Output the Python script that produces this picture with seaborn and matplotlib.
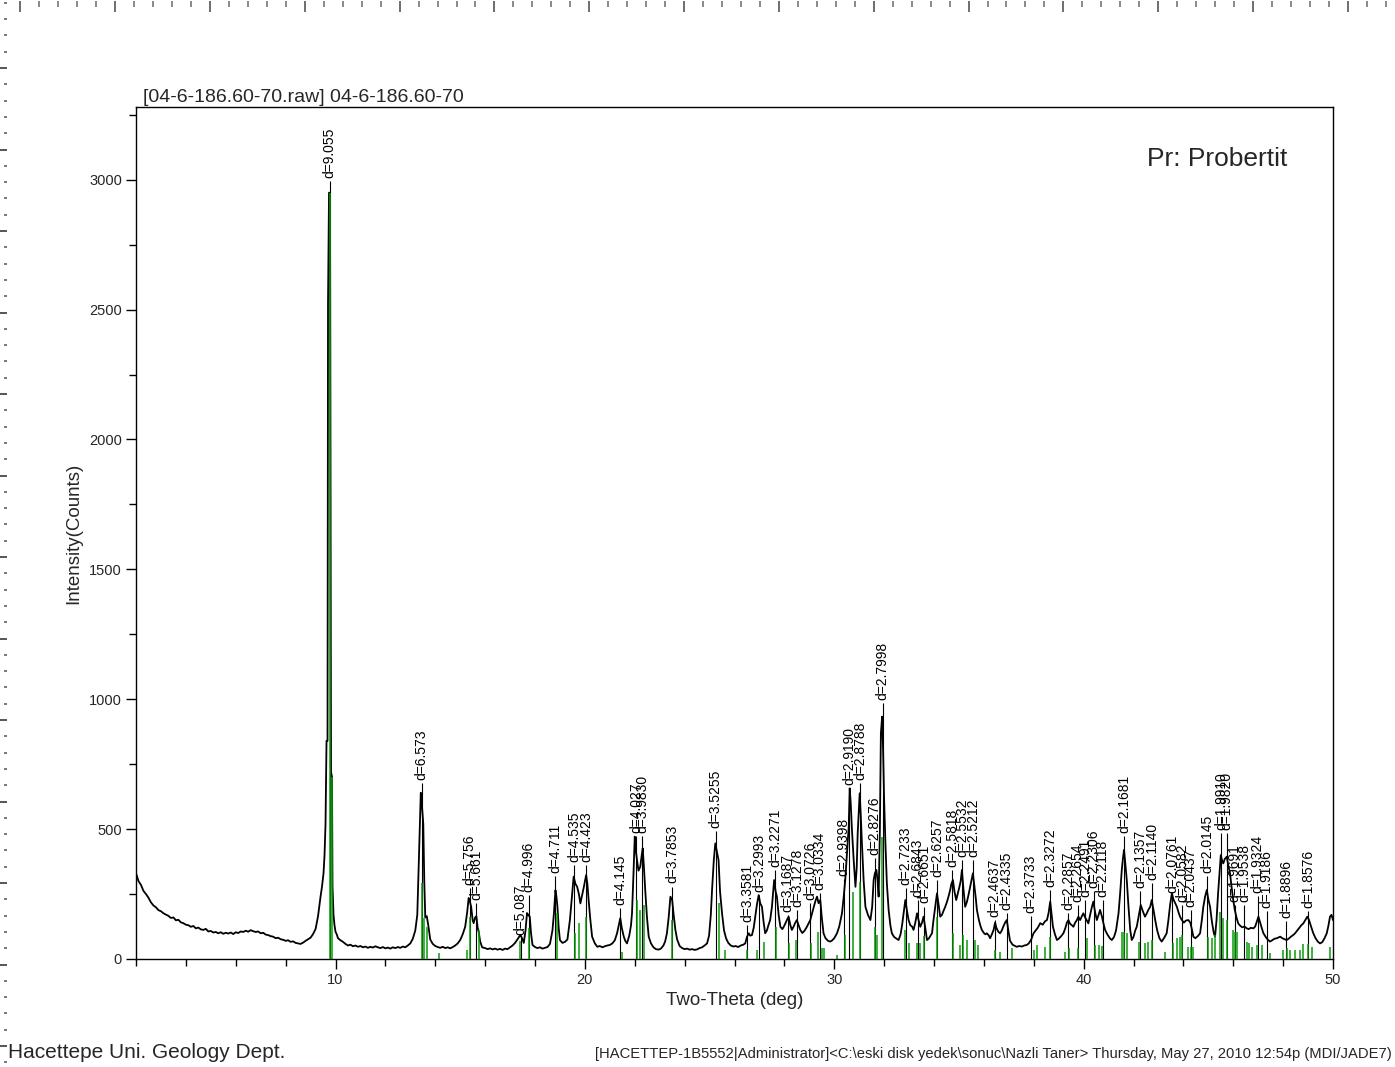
import numpy as np
import matplotlib
matplotlib.use("Agg")
import matplotlib.pyplot as plt
from matplotlib.ticker import MultipleLocator, FixedLocator
import seaborn as sns

tt_low = [2.0, 2.1, 2.2, 2.3, 2.4, 2.5, 2.6, 2.7, 2.8, 2.9, 3.0, 3.1, 3.2, 3.3, 3.4, 3.5,
          3.6, 3.7, 3.8, 3.9, 4.0, 4.1, 4.2, 4.3, 4.4, 4.5, 4.6, 4.7, 4.8, 4.9, 5.0, 5.1,
          5.2, 5.3, 5.4, 5.5, 5.6, 5.7, 5.8, 5.9, 6.0, 6.1, 6.2, 6.3, 6.4, 6.5, 6.6, 6.7,
          6.8, 6.9, 7.0, 7.1, 7.2, 7.3, 7.4, 7.5, 7.6, 7.7, 7.8, 7.9, 8.0, 8.1, 8.2, 8.3,
          8.4, 8.5, 8.6, 8.7, 8.8, 8.9, 9.0, 9.1, 9.2, 9.3, 9.4]
cnt_low = [330, 300, 285, 262, 250, 236, 218, 206, 199, 188, 184, 176, 171, 166, 158, 160,
           149, 151, 141, 138, 132, 130, 124, 127, 118, 121, 114, 112, 116, 106, 108, 102,
           104, 99, 103, 97, 101, 98, 102, 96, 103, 100, 106, 104, 109, 105, 111, 107,
           104, 106, 99, 101, 94, 92, 88, 86, 80, 82, 76, 74, 70, 72, 66, 68,
           62, 60, 58, 63, 70, 76, 82, 96, 115, 165, 240]

tt_main = [9.46, 9.52, 9.56, 9.60, 9.64, 9.68, 9.70, 9.74, 9.78, 9.82, 9.86, 9.88, 9.92,
           9.96, 10.0, 10.05]
cnt_main = [280, 330, 400, 520, 840, 840, 2520, 2950, 2950, 720, 700, 280, 170,
            130, 105, 95]

tt_a = [10.1, 10.2, 10.3, 10.4, 10.5, 10.6, 10.7, 10.8, 10.9, 11.0, 11.1, 11.2, 11.3, 11.4,
        11.5, 11.6, 11.7, 11.8, 11.9, 12.0, 12.1, 12.2, 12.3, 12.4, 12.5, 12.6, 12.7, 12.8,
        12.9, 13.0, 13.1, 13.2, 13.28, 13.36, 13.42, 13.46, 13.52, 13.56, 13.60, 13.66,
        13.72, 13.80, 13.9, 14.0, 14.1, 14.2, 14.3, 14.4, 14.5, 14.6, 14.7, 14.8, 14.9,
        15.0, 15.1, 15.2, 15.28, 15.34, 15.38, 15.44, 15.50, 15.54, 15.60, 15.65, 15.70,
        15.75, 15.8, 15.88, 16.0, 16.1, 16.2, 16.3, 16.4, 16.5, 16.6, 16.7, 16.8, 16.9,
        17.0, 17.1, 17.2, 17.28, 17.36, 17.42, 17.48, 17.55, 17.62, 17.68, 17.74, 17.79,
        17.84, 17.9, 18.0, 18.1, 18.2, 18.3, 18.4, 18.5, 18.6, 18.7, 18.76, 18.82, 18.86,
        18.90, 18.95, 19.0, 19.1, 19.2, 19.3, 19.4, 19.49, 19.55, 19.62, 19.69, 19.76,
        19.82, 19.9, 19.96, 20.05, 20.10, 20.15, 20.22, 20.29, 20.4, 20.5, 20.6, 20.7,
        20.8, 20.9, 21.0, 21.1, 21.2, 21.29, 21.36, 21.42, 21.48, 21.56, 21.62, 21.69]
cnt_a = [80, 72, 66, 58, 52, 55, 49, 52, 47, 50, 45, 48, 43, 47,
         44, 49, 45, 42, 46, 41, 44, 40, 45, 42, 46, 43, 48, 45,
         52, 60, 78, 110, 170, 440, 640, 600, 520, 300, 160, 165,
         130, 75, 58, 50, 46, 43, 47, 42, 45, 41, 46, 52, 60,
         73, 95, 124, 180, 235, 225, 201, 150, 138, 160, 165, 120,
         100, 68, 45, 42, 38, 41, 37, 40, 36, 39, 35, 40, 38,
         45, 52, 62, 73, 85, 92, 80, 62, 110, 177, 168, 163,
         100, 54, 46, 42, 45, 40, 43, 46, 58, 110, 177, 265, 240,
         201, 120, 73, 62, 66, 75, 150, 253, 317, 290, 278, 250,
         214, 250, 278, 323, 290, 227, 150, 86, 60, 47, 50, 45,
         49, 52, 54, 60, 72, 99, 130, 157, 120, 86, 70, 60]

tt_b = [21.78, 21.85, 21.89, 21.95, 22.0, 22.04, 22.09, 22.15, 22.22, 22.28, 22.32, 22.37,
        22.42, 22.49, 22.56, 22.65, 22.75, 22.85, 22.95, 23.05, 23.15, 23.22, 23.29, 23.36,
        23.43, 23.50, 23.56, 23.63, 23.7, 23.8, 23.9, 24.0, 24.1, 24.2, 24.3, 24.4, 24.5,
        24.6, 24.7, 24.8, 24.9, 24.98, 25.05, 25.10, 25.17, 25.23, 25.30, 25.36, 25.42,
        25.50, 25.58, 25.66, 25.75, 25.85, 25.95, 26.05, 26.15, 26.25, 26.35, 26.43, 26.50,
        26.57, 26.63, 26.70, 26.77, 26.83, 26.90, 26.97, 27.03, 27.10, 27.17, 27.23, 27.30,
        27.36, 27.43, 27.50, 27.55, 27.59, 27.65, 27.70, 27.77, 27.84, 27.92, 27.98, 28.04,
        28.10, 28.17, 28.24, 28.30, 28.37, 28.44, 28.50, 28.57, 28.64, 28.72, 28.80, 28.88,
        28.97, 29.04, 29.11, 29.18, 29.25, 29.31, 29.37, 29.44, 29.50, 29.57, 29.65, 29.75,
        29.84, 29.92, 30.0]
cnt_b = [90, 130, 176, 330, 471, 420, 381, 340, 355, 400, 426, 350,
         266, 160, 86, 60, 45, 38, 36, 40, 52, 68, 99, 160,
         240, 227, 170, 112, 75, 50, 42, 38, 40, 36, 38, 35, 37,
         42, 45, 52, 60, 90, 170, 266, 380, 445, 410, 381, 260,
         176, 110, 80, 62, 52, 48, 50, 46, 52, 55, 60, 85,
         99, 90, 92, 120, 163, 210, 246, 215, 201, 140, 99, 110,
         130, 150, 200, 260, 304, 260, 240, 170, 124, 115, 125, 137,
         150, 163, 130, 112, 125, 140, 150, 130, 112, 100, 108, 120,
         137, 150, 176, 200, 225, 240, 215, 227, 160, 99, 80, 70,
         67, 72, 80]

tt_c = [30.11, 30.2, 30.31, 30.38, 30.44, 30.52, 30.58, 30.62, 30.66, 30.71, 30.78, 30.85,
        30.90, 30.94, 30.98, 31.02, 31.06, 31.11, 31.18, 31.25, 31.35, 31.45, 31.52, 31.58,
        31.63, 31.69, 31.74, 31.78, 31.83, 31.87, 31.92, 31.96, 32.0, 32.05, 32.11, 32.18,
        32.25, 32.31, 32.4, 32.5, 32.58, 32.66, 32.72, 32.78, 32.85, 32.91, 32.98, 33.05,
        33.12, 33.18, 33.25, 33.32, 33.38, 33.45, 33.52, 33.58, 33.65, 33.72, 33.80, 33.86,
        33.92, 33.98, 34.05, 34.12, 34.18, 34.25, 34.32, 34.38, 34.45, 34.52, 34.58, 34.65,
        34.70, 34.76, 34.82, 34.89, 34.95, 35.02, 35.07, 35.12, 35.18, 35.25, 35.32, 35.38,
        35.45, 35.50, 35.56, 35.62, 35.68, 35.72, 35.80, 35.87, 35.92, 36.0, 36.06, 36.12,
        36.2, 36.25, 36.32, 36.39, 36.45, 36.5, 36.58, 36.65, 36.72, 36.78, 36.85, 36.92,
        36.98, 37.05, 37.15, 37.25, 37.32, 37.42, 37.52, 37.62, 37.72, 37.80, 37.90, 37.99]
cnt_c = [99, 125, 176, 240, 304, 420, 509, 657, 600, 497, 380, 278,
         350, 484, 560, 638, 560, 445, 300, 201, 170, 150, 200, 304,
         330, 343, 300, 240, 500, 869, 933, 800, 612, 450, 291, 190,
         130, 99, 85, 78, 73, 95, 130, 176, 227, 190, 150, 130,
         125, 112, 140, 176, 150, 124, 140, 163, 120, 73, 80, 90,
         99, 150, 201, 253, 210, 163, 170, 185, 201, 220, 240, 266,
         290, 304, 260, 227, 250, 278, 300, 343, 270, 201, 220, 245,
         278, 300, 330, 280, 230, 189, 150, 125, 112, 100, 95, 99,
         90, 80, 95, 112, 140, 120, 105, 99, 110, 125, 140, 150,
         110, 70, 55, 50, 47, 50, 48, 52, 54, 60, 75, 99]

tt_d = [38.08, 38.16, 38.26, 38.36, 38.45, 38.53, 38.60, 38.66, 38.72, 38.77, 38.85, 38.93,
        39.0, 39.1, 39.19, 39.27, 39.33, 39.39, 39.46, 39.53, 39.59, 39.66, 39.73, 39.79,
        39.86, 39.93, 39.99, 40.06, 40.12, 40.19, 40.26, 40.33, 40.39, 40.46, 40.53, 40.60,
        40.66, 40.73, 40.80, 40.86, 40.95, 41.05, 41.13, 41.22, 41.30, 41.40, 41.47, 41.53,
        41.58, 41.62, 41.67, 41.73, 41.80, 41.87, 41.93, 42.0, 42.07, 42.13, 42.20, 42.29,
        42.37, 42.46, 42.53, 42.60, 42.67, 42.73, 42.80, 42.87, 42.95, 43.04, 43.13, 43.22,
        43.33, 43.40, 43.47, 43.54, 43.60, 43.67, 43.74, 43.82, 43.88, 43.94, 44.02, 44.10,
        44.20, 44.28, 44.35, 44.40, 44.48, 44.58, 44.67, 44.74, 44.80, 44.87, 44.94, 45.0,
        45.07, 45.15, 45.22, 45.27, 45.33, 45.39, 45.44, 45.50, 45.55, 45.60, 45.66, 45.74,
        45.80, 45.87, 45.93, 46.0, 46.06, 46.13, 46.20, 46.28, 46.36, 46.45, 46.54, 46.62,
        46.70, 46.81, 46.88, 46.95, 47.01, 47.08, 47.14, 47.21, 47.30, 47.38, 47.47, 47.56,
        47.65, 47.75, 47.88, 47.97, 48.06, 48.14, 48.22, 48.30, 48.40, 48.48, 48.57, 48.65,
        48.73, 48.81, 48.89, 48.97, 49.04, 49.12, 49.21, 49.30, 49.40, 49.48, 49.57, 49.66,
        49.75, 49.82, 49.88, 49.94, 50.0]
cnt_d = [110, 120, 138, 132, 145, 150, 180, 221, 170, 124, 95, 73,
         78, 88, 99, 120, 140, 150, 135, 130, 124, 140, 150, 163,
         150, 165, 176, 160, 150, 137, 170, 200, 221, 180, 150, 170,
         189, 165, 135, 112, 95, 80, 73, 85, 110, 176, 260, 343,
         390, 420, 370, 304, 200, 110, 73, 85, 110, 124, 160, 208,
         185, 163, 175, 190, 201, 227, 190, 150, 110, 80, 67, 80,
         99, 150, 210, 253, 230, 215, 201, 175, 160, 150, 140, 148,
         150, 140, 110, 86, 80, 88, 99, 150, 201, 240, 266, 230,
         201, 140, 100, 86, 150, 250, 317, 400, 380, 368, 385, 394,
         360, 330, 280, 227, 190, 160, 137, 128, 122, 125, 118, 115,
         120, 118, 125, 145, 163, 140, 120, 99, 85, 75, 67, 72,
         78, 80, 86, 80, 76, 73, 78, 85, 92, 99, 110, 120,
         130, 137, 150, 163, 150, 125, 99, 80, 66, 60, 65, 80,
         99, 130, 163, 170, 150]

# --- reference sticks (probertite card), green ---
stick_tt = [9.78, 9.86, 13.47, 13.54, 13.68, 14.14, 15.28, 15.38, 15.74, 17.41, 17.75,
            18.89, 19.62, 19.75, 20.06, 21.49, 22.09, 22.22, 22.38, 23.50, 25.36, 25.63,
            26.50, 26.90, 27.17, 27.68, 28.17, 28.48, 29.07, 29.34, 29.51, 29.57, 30.11,
            30.44, 30.75, 31.04, 31.64, 31.72, 31.93, 32.85, 32.98, 33.30, 33.45, 33.60,
            34.12, 34.78, 35.05, 35.18, 35.32, 35.65, 35.78, 36.45, 36.65, 37.12, 37.99,
            38.12, 38.46, 38.66, 39.26, 39.43, 39.79, 40.13, 40.46, 40.60, 40.73, 41.53,
            41.62, 41.73, 42.24, 42.46, 42.59, 42.73, 43.27, 43.60, 43.74, 43.87, 43.94,
            44.20, 44.30, 44.40, 45.00, 45.14, 45.27, 45.47, 45.60, 45.74, 46.00, 46.07,
            46.14, 46.54, 46.65, 46.74, 46.94, 47.14, 47.47, 48.01, 48.14, 48.28, 48.48,
            48.68, 48.81, 49.01, 49.15, 49.88]
stick_h = [2950, 700, 292, 158, 123, 23, 35, 162, 112, 70, 120,
           177, 100, 138, 162, 28, 227, 190, 208, 150, 214, 35,
           35, 33, 67, 124, 60, 73, 60, 105, 42, 42, 15,
           92, 259, 298, 124, 92, 471, 112, 60, 60, 60, 88,
           163, 99, 54, 92, 73, 73, 54, 35, 28, 42, 35,
           54, 47, 86, 28, 42, 42, 80, 54, 54, 50, 105,
           105, 99, 67, 60, 67, 73, 28, 60, 80, 86, 92,
           47, 47, 47, 86, 80, 92, 182, 157, 150, 112, 105,
           105, 67, 60, 47, 54, 54, 22, 35, 42, 35, 35,
           35, 58, 58, 47, 47]

# --- peak labels: position, d-spacing text, height of label base ---
peak_tt = [9.76, 13.46, 15.38, 15.64, 17.42, 17.74, 18.82, 19.56, 20.06, 21.42, 22.06,
           22.30, 23.49, 25.24, 26.52, 27.00, 27.62, 28.14, 28.51, 29.04, 29.42, 30.38,
           30.60, 31.04, 31.62, 31.94, 32.86, 33.35, 33.60, 34.12, 34.72, 35.12, 35.58,
           36.44, 36.91, 37.88, 38.66, 39.39, 39.76, 40.06, 40.40, 40.76, 41.62, 42.28,
           42.74, 43.56, 43.96, 44.29, 44.96, 45.52, 45.74, 46.06, 46.44, 46.98, 47.34,
           48.12, 49.00]
peak_d = ["9.055", "6.573", "5.756", "5.661", "5.087", "4.996", "4.711", "4.535", "4.423",
          "4.145", "4.027", "3.9830", "3.7853", "3.5255", "3.3581", "3.2993", "3.2271",
          "3.1687", "3.1278", "3.0726", "3.0334", "2.9398", "2.9190", "2.8788", "2.8276",
          "2.7998", "2.7233", "2.6843", "2.6651", "2.6257", "2.5818", "2.5532", "2.5212",
          "2.4637", "2.4335", "2.3733", "2.3272", "2.2857", "2.2654", "2.2491", "2.2306",
          "2.2118", "2.1681", "2.1357", "2.1140", "2.0761", "2.0582", "2.0437", "2.0145",
          "1.9910", "1.9820", "1.9691", "1.9538", "1.9324", "1.9186", "1.8896", "1.8576"]
peak_lab = [3007, 689, 285, 227, 92, 259, 330, 375, 375, 208, 484,
            484, 291, 503, 144, 259, 355, 182, 201, 227, 266, 320,
            670, 689, 400, 997, 285, 240, 214, 317, 355, 394, 394,
            163, 189, 176, 278, 189, 221, 240, 272, 240, 484, 272,
            304, 253, 221, 201, 330, 497, 497, 221, 221, 253, 195,
            157, 195]

W, H = 1395, 1067

sns.set_theme(style="white")
plt.rcParams["font.family"] = ["Liberation Sans", "DejaVu Sans"]

fig = plt.figure(figsize=(W / 100, H / 100), dpi=100)

# screen ruler of the capture (top and left edges)
rul = fig.add_axes([7 / W, 0, 1 - 7 / W, 1 - 1 / H], facecolor="none")
rul.set_xlim(-7, W - 7)
rul.set_ylim(H - 1, 0)
for s in rul.spines.values():
    s.set_visible(False)
rul.xaxis.set_ticks_position("top")
rul.yaxis.set_ticks_position("left")
rul.xaxis.set_major_locator(FixedLocator(np.arange(6.4, W, 95.3)))
rul.xaxis.set_minor_locator(FixedLocator(np.arange(6.4, W, 19.06)))
rul.yaxis.set_major_locator(FixedLocator(np.arange(67, H, 81.5)))
rul.yaxis.set_minor_locator(FixedLocator(np.arange(1.8, H, 16.3)))
rul.tick_params(which="both", labeltop=False, labelleft=False, labelbottom=False,
                labelright=False)
rul.tick_params(axis="x", which="major", direction="in", length=8, width=1.2, color="#555555")
rul.tick_params(axis="x", which="minor", direction="in", length=4, width=1.2, color="#777777")
rul.tick_params(axis="y", which="major", direction="out", length=5, width=1.4, color="#555555")
rul.tick_params(axis="y", which="minor", direction="out", length=2, width=1.4, color="#777777")

ax = fig.add_axes([136 / W, 1 - 959 / H, (1333 - 136) / W, (959 - 107) / H])

tt = tt_low + tt_main + tt_a + tt_b + tt_c + tt_d
cnt = cnt_low + cnt_main + cnt_a + cnt_b + cnt_c + cnt_d

# peak marker lines
ax.vlines(peak_tt, 0, [h - 12 for h in peak_lab], color="black", lw=0.8, zorder=1)
sns.lineplot(x=tt, y=cnt, color="black", lw=1.3, estimator=None, sort=False, ax=ax, zorder=2)
ax.vlines(stick_tt, 0, stick_h, color="#0a9a0a", lw=1.1, zorder=3)

for x, d, h in zip(peak_tt, peak_d, peak_lab):
    ax.annotate("d=" + d, (x, h), xytext=(0, 0), textcoords="offset points",
                rotation=90, ha="center", va="bottom", fontsize=10, color="black")

ax.set_xlim(2.0, 50.0)
ax.set_ylim(0, 3280)
ax.xaxis.set_major_locator(MultipleLocator(10))
ax.xaxis.set_minor_locator(MultipleLocator(2))
ax.yaxis.set_major_locator(MultipleLocator(500))
ax.yaxis.set_minor_locator(MultipleLocator(250))
ax.tick_params(which="both", direction="out", color="black", width=1)
ax.tick_params(which="major", length=7, labelsize=10.5, pad=3)
ax.tick_params(which="minor", length=5)
ax.tick_params(axis="x", bottom=True, which="both")
ax.tick_params(axis="y", left=True, which="both")
for s in ax.spines.values():
    s.set_color("black")
    s.set_linewidth(1)

ax.set_xlabel("Two-Theta (deg)", fontsize=13.5, labelpad=4)
ax.set_ylabel("Intensity(Counts)", fontsize=13.5, labelpad=5)

ax.text(0.962, 0.931, "Pr: Probertit", transform=ax.transAxes, ha="right",
        va="baseline", fontsize=19)

fig.text(143 / W, 1 - 102 / H, "[04-6-186.60-70.raw] 04-6-186.60-70", fontsize=14,
         va="baseline", ha="left")
fig.text(8 / W, 1 - 1058 / H, "Hacettepe Uni. Geology Dept.", fontsize=15,
         va="baseline", ha="left")
fig.text(1392 / W, 1 - 1058 / H,
         "[HACETTEP-1B5552|Administrator]<C:\\eski disk yedek\\sonuc\\Nazli Taner> "
         "Thursday, May 27, 2010 12:54p (MDI/JADE7)",
         fontsize=10.6, va="baseline", ha="right")

fig.savefig("out.png", dpi=100)
